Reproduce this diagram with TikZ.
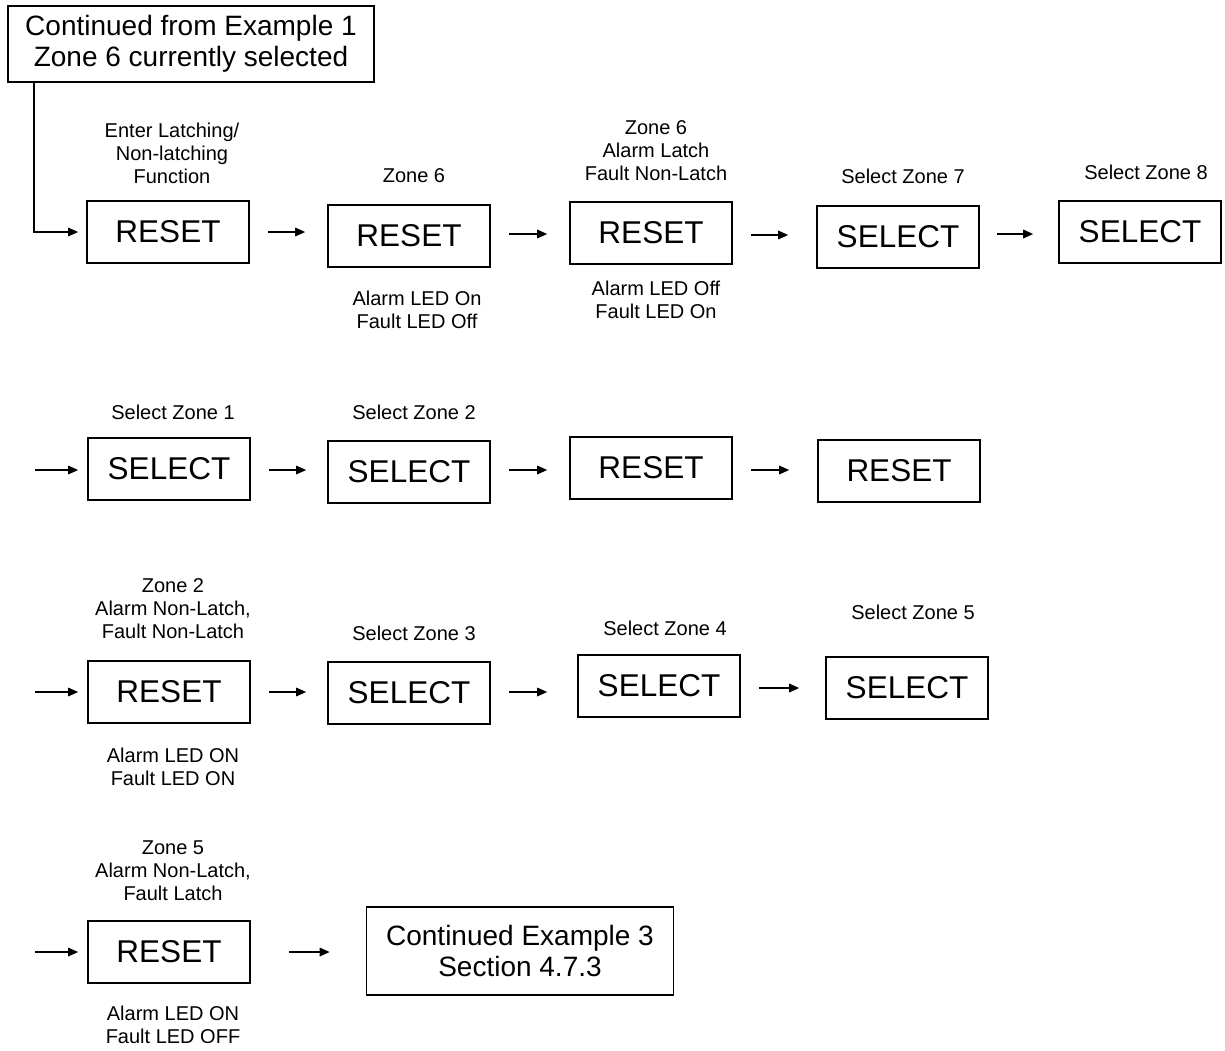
\documentclass[tikz,border=0pt]{standalone}
\usepackage{fontspec}
\setmainfont{Liberation Sans}
\usetikzlibrary{arrows.meta,calc}
\begin{document}
\begin{tikzpicture}[x=1pt,y=-1pt,
  box/.style={draw,line width=1.6pt,minimum width=162pt,minimum height=62pt,inner sep=0pt,font=\fontsize{31.5}{34}\selectfont},
  big/.style={draw,line width=1.6pt,inner sep=0pt,align=center,font=\fontsize{28}{31}\selectfont},
  lbl/.style={align=center,inner sep=0pt,font=\fontsize{20}{23}\selectfont},
  arr/.style={line width=1.6pt,-{Triangle[length=10pt,width=8.5pt]}}]
\useasboundingbox (0,0) rectangle (1225,1050);

% top box
\node[big,minimum width=366pt,minimum height=76pt] (top) at (191,44) {Continued from Example 1\\Zone 6 currently selected};

% row 1
\node[box] (r1) at (168,232) {RESET};
\node[box] (r2) at (409,236) {RESET};
\node[box] (r3) at (651,233) {RESET};
\node[box] (s7) at (898,237) {SELECT};
\node[box] (s8) at (1140,232) {SELECT};

\node[lbl] (l1) at (172,153) {Enter Latching/\\Non-latching\\Function};
\node[lbl] (l2) at (414,176) {Zone 6};
\node[lbl] (l2b) at (417,310) {Alarm LED On\\Fault LED Off};
\node[lbl] (l3) at (656,151) {Zone 6\\Alarm Latch\\Fault Non-Latch};
\node[lbl] (l3b) at (656,300) {Alarm LED Off\\Fault LED On};
\node[lbl] (l4) at (903,176) {Select Zone 7};
\node[lbl] (l5) at (1146,172) {Select Zone 8};

\draw[arr] ($(top.south west)+(27,0)$) |- ($(r1.west)+(-8,0)$);
\draw[arr] ($(r1.east)+(18,0)$) -- ($(r1.east -| r2.west)+(-22,0)$);
\draw[arr] ($(r2.east)+(18,-2)$) -- ($(r2.east -| r3.west)+(-22,-2)$);
\draw[arr] ($(r3.east)+(18,2)$) -- ($(r3.east -| s7.west)+(-28,2)$);
\draw[arr] ($(s7.east)+(17,-3)$) -- ($(s7.east -| s8.west)+(-25,-3)$);

% row 2
\node[box] (s1) at (169,469) {SELECT};
\node[box] (s2) at (409,472) {SELECT};
\node[box] (r4) at (651,468) {RESET};
\node[box] (r5) at (899,471) {RESET};

\node[lbl] (l6) at (173,412) {Select Zone 1};
\node[lbl] (l7) at (414,412) {Select Zone 2};

\coordinate (c2) at (35,470);
\draw[arr] (c2) -- ($(c2 -| s1.west)+(-9,0)$);
\draw[arr] ($(s1.east)+(18,1)$) -- ($(s1.east -| s2.west)+(-21,1)$);
\draw[arr] ($(s2.east)+(18,-2)$) -- ($(s2.east -| r4.west)+(-22,-2)$);
\draw[arr] ($(r4.east)+(18,2)$) -- ($(r4.east -| r5.west)+(-28,2)$);

% row 3
\node[box] (r6) at (169,692) {RESET};
\node[box] (s3) at (409,693) {SELECT};
\node[box] (s4) at (659,686) {SELECT};
\node[box] (s5) at (907,688) {SELECT};

\node[lbl] (l8) at (173,609) {Zone 2\\Alarm Non-Latch,\\Fault Non-Latch};
\node[lbl] (l8b) at (173,767) {Alarm LED ON\\Fault LED ON};
\node[lbl] (l9) at (414,633) {Select Zone 3};
\node[lbl] (l10) at (665,628) {Select Zone 4};
\node[lbl] (l11) at (913,612) {Select Zone 5};

\coordinate (c3) at (35,692);
\draw[arr] (c3) -- ($(c3 -| r6.west)+(-9,0)$);
\draw[arr] ($(r6.east)+(18,0)$) -- ($(r6.east -| s3.west)+(-21,0)$);
\draw[arr] ($(s3.east)+(18,-1)$) -- ($(s3.east -| s4.west)+(-30,-1)$);
\draw[arr] ($(s4.east)+(18,2)$) -- ($(s4.east -| s5.west)+(-26,2)$);

% row 4
\node[box] (r7) at (169,952) {RESET};
\node[big,minimum width=307pt,minimum height=88pt] (end) at (520,951) {Continued Example 3\\Section 4.7.3};

\node[lbl] (l12) at (173,871) {Zone 5\\Alarm Non-Latch,\\Fault Latch};
\node[lbl] (l12b) at (173,1025) {Alarm LED ON\\Fault LED OFF};

\coordinate (c4) at (35,952);
\draw[arr] (c4) -- ($(c4 -| r7.west)+(-9,0)$);
\draw[arr] ($(r7.east)+(38,0)$) -- ($(r7.east -| end.west)+(-36,0)$);
\end{tikzpicture}
\end{document}
